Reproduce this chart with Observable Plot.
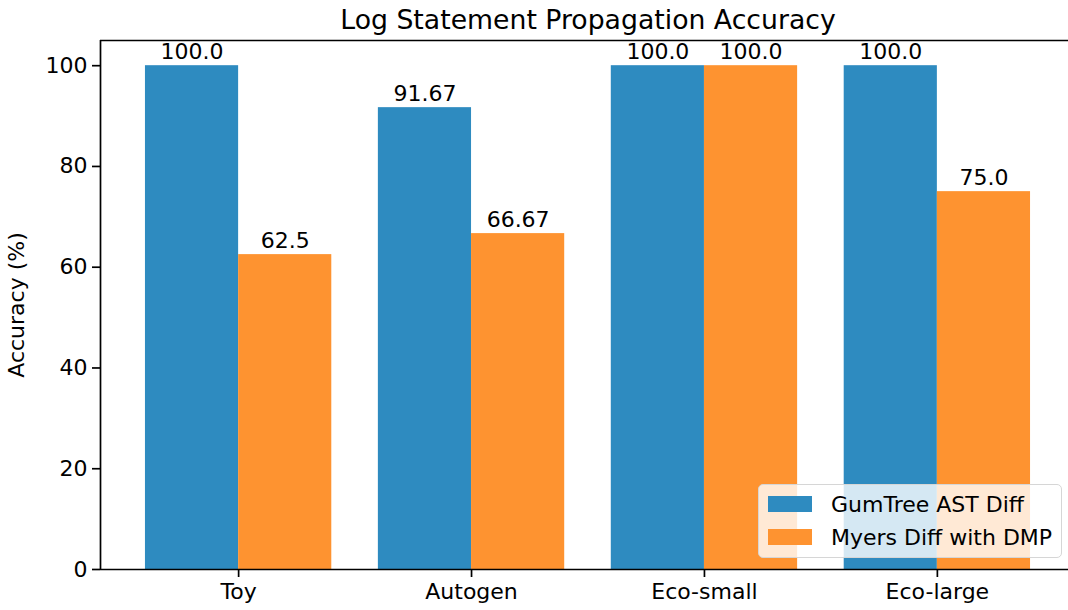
<!DOCTYPE html>
<html>
<head>
<meta charset="utf-8">
<script src="https://cdn.jsdelivr.net/npm/d3@7"></script>
<script src="https://cdn.jsdelivr.net/npm/@observablehq/plot@0.6"></script>
<style>
  body { margin: 0; background: #fff; font-family: "DejaVu Sans", sans-serif; }
  #wrap { position: relative; width: 1068px; height: 610px; overflow: hidden; }
  #legend { position: absolute; left: 758px; top: 484px; width: 304px; height: 74px;
    background: rgba(255,255,255,0.8); border: 1.5px solid #d6d6d6; border-radius: 5px; box-sizing: border-box;
    font-size: 22px; color: #000; }
  .row { position: absolute; left: 9px; height: 22px; display: flex; align-items: center; }
  .sw { width: 44px; height: 16px; margin-right: 19px; }
</style>
</head>
<body>
<div id="wrap"><div id="chart"></div><div id="legend"></div></div>
<script>
const categories = ["Toy", "Autogen", "Eco-small", "Eco-large"];
const seriesNames = ["GumTree AST Diff", "Myers Diff with DMP"];
const gumtree = [100.0, 91.67, 100.0, 100.0];
const myers = [62.5, 66.67, 100.0, 75.0];
const colors = ["#2e8bc0", "#fe9330"];
const yTicks = [0, 20, 40, 60, 80, 100];

const barW = 0.4;
const rows = [];
categories.forEach((c, i) => {
  rows.push({cat: i, s: 0, v: gumtree[i], x1: i - barW, x2: i});
  rows.push({cat: i, s: 1, v: myers[i], x1: i, x2: i + barW});
});
const fmt = v => Number.isInteger(v) ? v.toFixed(1) : String(v);

const plot = Plot.plot({
  width: 1068, height: 610,
  marginLeft: 100, marginRight: 0, marginTop: 40, marginBottom: 41,
  style: {fontFamily: "DejaVu Sans, sans-serif", fontSize: "22px", color: "#000", background: "#fff"},
  x: {type: "linear", domain: [-0.593, 3.563]},
  y: {domain: [0, 105]},
  marks: [
    Plot.rectY(rows, {x1: "x1", x2: "x2", y1: 0, y2: "v", fill: d => colors[d.s]}),
    Plot.text(rows, {x: d => (d.x1 + d.x2) / 2, y: "v", text: d => fmt(d.v), lineAnchor: "bottom", dy: -7, fill: "#000", fontSize: 22}),
    Plot.ruleY([0, 105], {stroke: "#000", strokeWidth: 1.7}),
    Plot.ruleX([-0.593], {stroke: "#000", strokeWidth: 1.7}),
    Plot.axisY({ticks: yTicks, tickSize: 8, tickPadding: 5, strokeWidth: 1.7, fontSize: 22,
      label: "Accuracy (%)", labelAnchor: "center", labelArrow: "none", labelOffset: 92}),
    Plot.axisX({ticks: [0, 1, 2, 3], tickFormat: i => categories[i], tickSize: 8, tickPadding: 6, strokeWidth: 1.7, fontSize: 22, label: null}),
    Plot.text(["Log Statement Propagation Accuracy"], {frameAnchor: "top", x: 1.5, dy: -12, lineAnchor: "bottom", fontSize: 26.7, fill: "#000"})
  ]
});
document.getElementById("chart").appendChild(plot);

const legend = document.getElementById("legend");
seriesNames.forEach((n, i) => {
  const r = document.createElement("div");
  r.className = "row";
  r.style.top = (8 + i * 33) + "px";
  r.innerHTML = `<div class="sw" style="background:${colors[i]}"></div><span>${n}</span>`;
  legend.appendChild(r);
});
</script>
</body>
</html>
